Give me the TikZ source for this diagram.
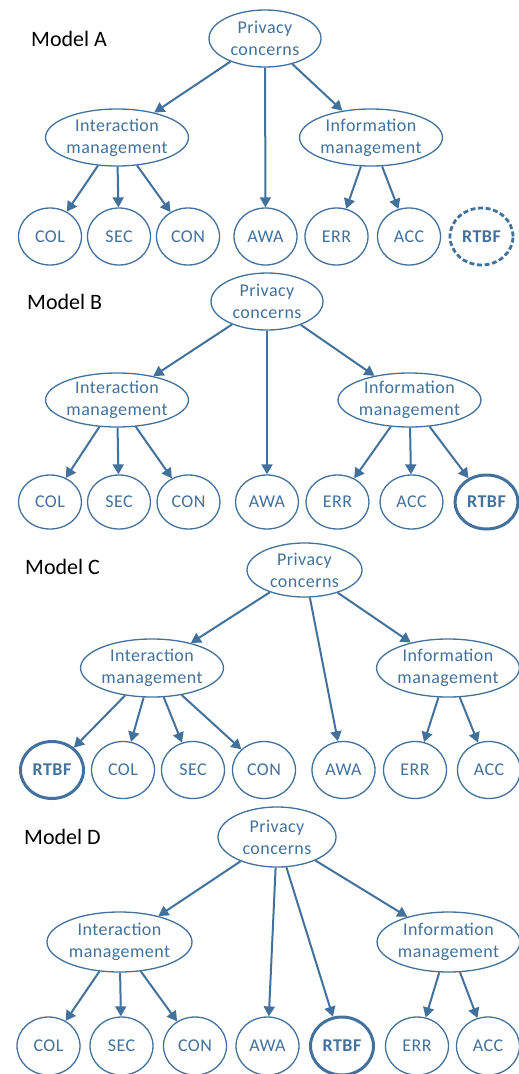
\documentclass[tikz,border=0pt]{standalone}
\usepackage{fontspec}
\setmainfont{Carlito}
\newfontfamily\nodefont[LetterSpace=2.5]{Carlito}
\usetikzlibrary{shapes.geometric,arrows.meta}
\definecolor{cb}{HTML}{41719C}
\tikzset{
  ell/.style={ellipse, draw=cb, line width=1.3pt, text=cb, inner sep=0pt, align=center,
     font=\nodefont\fontsize{18}{22}\selectfont},
  big/.style={ell, minimum width=#1},
  leaf/.style={ell, minimum width=63pt},
  rtbf/.style={ell, minimum width=63pt, line width=3pt, font=\nodefont\fontsize{18}{22}\selectfont\bfseries},
  rtbfd/.style={rtbf, line width=2.8pt, dash pattern=on 5pt off 2.6pt},
  arr/.style={draw=cb, line width=2pt, -{Triangle[length=10pt,width=11pt]}},
  lab/.style={anchor=west, inner sep=0pt, font=\fontsize{22}{26}\selectfont, text=black}
}
\begin{document}
\begin{tikzpicture}[x=1pt,y=-1pt]
\useasboundingbox (0,0) rectangle (519,1074);
% ---------- Model A
\node[lab] (labA) at (31,39) {Model A};
\node[big=112pt, minimum height=57pt] (pA) at (265,38.5) {Privacy\\concerns};
\node[big=138pt, minimum height=57pt] (iA) at (117,137.5) {Interaction\\management};
\node[big=136pt, minimum height=57pt] (fA) at (371,137.5) {Information\\management};
\begin{scope}[every node/.append style={minimum height=57pt}]
\node[leaf] (colA) at (50,236.5) {COL};
\node[leaf] (secA) at (119,236.5) {SEC};
\node[leaf] (conA) at (188,236.5) {CON};
\node[leaf] (awaA) at (265.5,236.5) {AWA};
\node[leaf] (errA) at (336.5,236.5) {ERR};
\node[leaf] (accA) at (409,236.5) {ACC};
\node[rtbfd] (rtbfA) at (481.5,236.5) {RTBF};
\end{scope}
\draw[arr] (pA) -- (iA);
\draw[arr] (pA) -- (awaA);
\draw[arr] (pA) -- (fA);
\draw[arr] (iA) -- (colA);
\draw[arr] (iA) -- (secA);
\draw[arr] (iA) -- (conA);
\draw[arr] (fA) -- (errA);
\draw[arr] (fA) -- (accA);
% ---------- Model B
\node[lab] (labB) at (27,302) {Model B};
\node[big=112pt, minimum height=57pt] (pB) at (267,301.5) {Privacy\\concerns};
\node[big=138pt, minimum height=54pt] (iB) at (117,400) {Interaction\\management};
\node[big=139pt, minimum height=54pt] (fB) at (409.5,400) {Information\\management};
\begin{scope}[every node/.append style={minimum height=54pt}]
\node[leaf] (colB) at (50,502) {COL};
\node[leaf] (secB) at (119,502) {SEC};
\node[leaf] (conB) at (188.5,502) {CON};
\node[leaf] (awaB) at (267,502) {AWA};
\node[leaf] (errB) at (337.5,502) {ERR};
\node[leaf] (accB) at (411.5,502) {ACC};
\node[rtbf] (rtbfB) at (486.5,502) {RTBF};
\end{scope}
\draw[arr] (pB) -- (iB);
\draw[arr] (pB) -- (awaB);
\draw[arr] (pB) -- (fB);
\draw[arr] (iB) -- (colB);
\draw[arr] (iB) -- (secB);
\draw[arr] (iB) -- (conB);
\draw[arr] (fB) -- (errB);
\draw[arr] (fB) -- (accB);
\draw[arr] (fB) -- (rtbfB);
% ---------- Model C
\node[lab] (labC) at (25,567) {Model C};
\node[big=115pt, minimum height=54pt] (pC) at (304.5,570) {Privacy\\concerns};
\node[big=140pt, minimum height=58pt] (iC) at (152,668) {Interaction\\management};
\node[big=140pt, minimum height=58pt] (fC) at (448,668) {Information\\management};
\begin{scope}[every node/.append style={minimum height=57pt, minimum width=64pt}]
\node[rtbf] (rtbfC) at (52,770) {RTBF};
\node[leaf] (colC) at (123,770) {COL};
\node[leaf] (secC) at (193,770) {SEC};
\node[leaf] (conC) at (264,770) {CON};
\node[leaf] (awaC) at (343.5,770) {AWA};
\node[leaf] (errC) at (415,770) {ERR};
\node[leaf] (accC) at (489,770) {ACC};
\end{scope}
\draw[arr] (pC) -- (iC);
\draw[arr] (pC) -- (awaC);
\draw[arr] (pC) -- (fC);
\draw[arr] (iC) -- (rtbfC);
\draw[arr] (iC) -- (colC);
\draw[arr] (iC) -- (secC);
\draw[arr] (iC) -- (conC);
\draw[arr] (fC) -- (errC);
\draw[arr] (fC) -- (accC);
% ---------- Model D
\node[lab] (labD) at (24,837) {Model D};
\node[big=118pt, minimum height=60pt] (pD) at (277,837) {Privacy\\concerns};
\node[big=145pt, minimum height=60pt] (iD) at (119.5,942) {Interaction\\management};
\node[big=141pt, minimum height=60pt] (fD) at (448.5,942) {Information\\management};
\begin{scope}[every node/.append style={minimum height=58pt, minimum width=66pt}]
\node[leaf] (colD) at (48.5,1046) {COL};
\node[leaf] (secD) at (121.5,1046) {SEC};
\node[leaf] (conD) at (195,1046) {CON};
\node[leaf] (awaD) at (267.5,1046) {AWA};
\node[rtbf] (rtbfD) at (342,1046) {RTBF};
\node[leaf] (errD) at (417,1046) {ERR};
\node[leaf] (accD) at (488,1046) {ACC};
\end{scope}
\draw[arr] (pD) -- (iD);
\draw[arr] (pD) -- (awaD);
\draw[arr] (pD) -- (rtbfD);
\draw[arr] (pD) -- (fD);
\draw[arr] (iD) -- (colD);
\draw[arr] (iD) -- (secD);
\draw[arr] (iD) -- (conD);
\draw[arr] (fD) -- (errD);
\draw[arr] (fD) -- (accD);
\end{tikzpicture}
\end{document}
